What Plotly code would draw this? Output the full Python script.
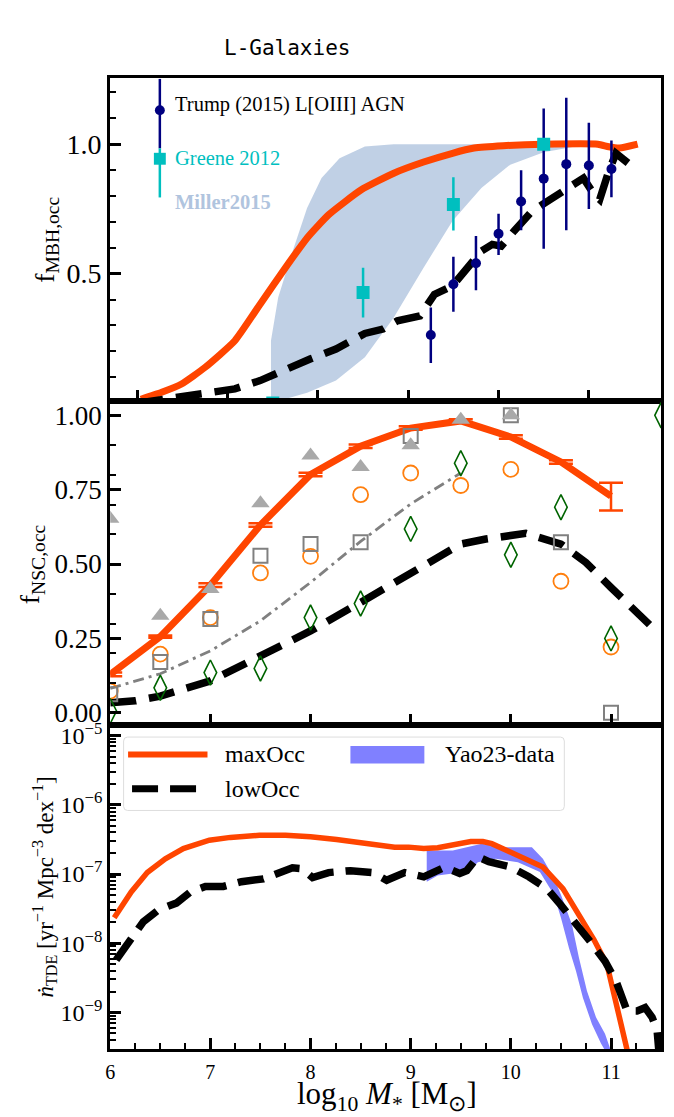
import plotly.graph_objects as go

W, H = 674, 1117
def px(x): return x / W
def py(y): return 1 - y / H

LEFT, RIGHT = 106, 661
T1, B1, B2, B3 = 72.5, 398.5, 724.5, 1051.5

RED = "#FF4500"
NAVY = "#000080"
CYAN = "#00BFBF"
SERIF = "Liberation Serif"

# ---------------- top panel data (MBH occupation) ----------------
top_max_x = [6.04, 6.27, 6.49, 6.75, 7.08, 7.36, 7.64, 7.88, 8.12, 8.48, 8.84, 9.17, 9.49, 9.73, 10.05, 10.5, 11.1, 11.22, 11.34, 11.54]
top_max_y = [0.015, 0.042, 0.074, 0.138, 0.241, 0.382, 0.523, 0.638, 0.728, 0.824, 0.888, 0.931, 0.965, 0.985, 0.994, 1.0, 1.0, 0.99, 0.985, 1.0]
top_low_x = [6.0, 6.15, 6.43, 6.79, 7.08, 7.36, 7.64, 7.92, 8.2, 8.52, 8.72, 8.88, 9.13, 9.29, 9.49, 9.69, 9.81, 9.93, 10.03, 10.17, 10.37, 10.57, 10.77, 10.94, 11.06, 11.12, 11.22, 11.3, 11.46, 11.54]
top_low_y = [0.0, 0.008, 0.019, 0.036, 0.055, 0.087, 0.132, 0.171, 0.209, 0.269, 0.286, 0.318, 0.337, 0.42, 0.453, 0.536, 0.587, 0.613, 0.606, 0.664, 0.741, 0.786, 0.831, 0.869, 0.805, 0.786, 0.895, 0.965, 0.92, 0.91]

miller_up_x = [7.48, 7.48, 7.56, 7.72, 7.88, 8.04, 8.24, 8.52, 8.84, 11.26]
miller_up_y = [0.0, 0.241, 0.408, 0.587, 0.754, 0.869, 0.946, 0.991, 1.0, 1.0]
miller_lo_x = [7.48, 7.88, 8.2, 8.52, 8.84, 9.17, 9.49, 9.81, 10.13, 10.5, 10.85, 11.26]
miller_lo_y = [0.0, 0.04, 0.087, 0.177, 0.331, 0.523, 0.703, 0.831, 0.921, 0.969, 0.991, 0.997]

trump_x = [9.25, 9.5, 9.75, 10.0, 10.25, 10.5, 10.75, 11.0, 11.25]
trump_y = [0.263, 0.459, 0.540, 0.654, 0.779, 0.867, 0.923, 0.918, 0.904]
trump_hi = [0.369, 0.565, 0.645, 0.731, 0.899, 1.138, 1.179, 1.083, 1.014]
trump_lo = [0.155, 0.353, 0.436, 0.572, 0.668, 0.596, 0.668, 0.750, 0.795]

greene_x = [7.5, 8.5, 9.5, 10.5]
greene_y = [0.0, 0.427, 0.767, 1.0]
greene_hi = [0.0, 0.523, 0.872, 1.0]
greene_lo = [0.0, 0.331, 0.667, 1.0]

# ---------------- middle panel data (NSC occupation) ----------------
nsc_x = [6.0, 6.5, 7.0, 7.5, 8.0, 8.5, 9.0, 9.5, 10.0, 10.5, 11.0]
nsc_max = [0.129, 0.256, 0.429, 0.631, 0.801, 0.896, 0.957, 0.981, 0.927, 0.843, 0.728]
nsc_max_errp = [0.006, 0.004, 0.006, 0.006, 0.006, 0.006, 0.006, 0.006, 0.006, 0.006, 0.045]
nsc_max_errm = [0.006, 0.004, 0.006, 0.006, 0.006, 0.006, 0.006, 0.006, 0.006, 0.006, 0.048]

nsc_dd_x = [6.0, 6.5, 7.0, 7.5, 8.0, 8.5, 9.0, 9.5]
nsc_dd_y = [0.082, 0.131, 0.208, 0.309, 0.438, 0.576, 0.702, 0.806]

nsc_low_x = [6.0, 6.25, 6.5, 7.0, 7.5, 8.0, 8.5, 9.0, 9.5, 9.75, 10.0, 10.15, 10.5, 10.75, 11.0, 11.25, 11.45]
nsc_low_y = [0.034, 0.040, 0.056, 0.107, 0.191, 0.275, 0.371, 0.466, 0.567, 0.584, 0.598, 0.603, 0.567, 0.505, 0.421, 0.335, 0.275]

tri_x = [6.0, 6.5, 7.0, 7.5, 8.0, 8.5, 9.0, 9.5, 10.0]
tri_y = [0.652, 0.326, 0.416, 0.704, 0.865, 0.826, 0.899, 0.985, 1.0]
sq_x = [6.0, 6.5, 7.0, 7.5, 8.0, 8.5, 9.0, 10.0, 10.5, 11.0]
sq_y = [0.062, 0.171, 0.315, 0.528, 0.567, 0.573, 0.930, 1.0, 0.573, 0.0]
circ_x = [6.0, 6.5, 7.0, 7.5, 8.0, 8.5, 9.0, 9.5, 10.0, 10.5, 11.0]
circ_y = [0.073, 0.197, 0.320, 0.470, 0.526, 0.733, 0.806, 0.764, 0.818, 0.442, 0.221]
dia_x = [6.0, 6.5, 7.0, 7.5, 8.0, 8.5, 9.0, 9.5, 10.0, 10.5, 11.0, 11.5]
dia_y = [0.006, 0.084, 0.135, 0.149, 0.320, 0.367, 0.618, 0.839, 0.531, 0.691, 0.250, 1.0]

# ---------------- bottom panel data (TDE rate) ----------------
tde_max_x = [6.04, 6.21, 6.37, 6.55, 6.73, 6.99, 7.2, 7.49, 7.75, 8.0, 8.26, 8.55, 8.84, 8.98, 9.13, 9.27, 9.45, 9.6, 9.72, 9.81, 9.96, 10.14, 10.32, 10.52, 10.68, 10.83, 10.96, 11.05, 11.14, 11.17]
tde_max_y = [2.34e-8, 5.50e-8, 1.05e-7, 1.66e-7, 2.34e-7, 3.09e-7, 3.39e-7, 3.63e-7, 3.63e-7, 3.47e-7, 3.16e-7, 2.82e-7, 2.45e-7, 2.45e-7, 2.34e-7, 2.40e-7, 2.75e-7, 2.95e-7, 2.95e-7, 2.75e-7, 2.19e-7, 1.66e-7, 1.26e-7, 6.17e-8, 2.57e-8, 1.12e-8, 4.90e-9, 1.48e-9, 4.37e-10, 2.51e-10]
tde_low_x = [6.06, 6.19, 6.33, 6.48, 6.66, 6.80, 6.95, 7.13, 7.31, 7.53, 7.68, 7.82, 7.91, 8.02, 8.18, 8.40, 8.62, 8.76, 8.94, 9.13, 9.34, 9.49, 9.56, 9.67, 9.78, 10.0, 10.18, 10.36, 10.5, 10.65, 10.79, 10.94, 11.05, 11.16, 11.26, 11.34, 11.41, 11.46, 11.48]
tde_low_y = [5.75e-9, 1.07e-8, 2.04e-8, 3.02e-8, 3.80e-8, 5.50e-8, 6.61e-8, 6.61e-8, 7.76e-8, 8.51e-8, 1.02e-7, 1.23e-7, 1.20e-7, 8.91e-8, 1.05e-7, 1.12e-7, 1.05e-7, 8.13e-8, 1.05e-7, 9.12e-8, 1.26e-7, 1.02e-7, 1.12e-7, 1.78e-7, 1.51e-7, 1.26e-7, 9.12e-8, 6.17e-8, 3.55e-8, 1.95e-8, 1.07e-8, 5.50e-9, 2.82e-9, 1.05e-9, 1.05e-9, 1.17e-9, 8.51e-10, 5.50e-10, 2.51e-10]

yao_up_x = [9.16, 9.42, 9.56, 9.71, 9.89, 10.1, 10.21, 10.32, 10.43, 10.5, 10.61, 10.68, 10.76, 10.85, 10.94, 11.01]
yao_up_y = [2.19e-7, 2.19e-7, 2.45e-7, 2.75e-7, 2.45e-7, 2.45e-7, 2.45e-7, 1.66e-7, 8.71e-8, 5.01e-8, 1.86e-8, 6.17e-9, 2.04e-9, 8.51e-10, 4.90e-10, 2.51e-10]
yao_lo_x = [9.16, 9.27, 9.42, 9.56, 9.67, 9.85, 10.07, 10.29, 10.43, 10.5, 10.58, 10.65, 10.72, 10.81, 10.9, 10.96]
yao_lo_y = [7.76e-8, 9.55e-8, 1.02e-7, 1.02e-7, 1.48e-7, 1.66e-7, 1.48e-7, 1.07e-7, 5.01e-8, 2.34e-8, 8.51e-9, 3.98e-9, 1.62e-9, 6.76e-10, 3.55e-10, 2.51e-10]

mass_ticks = [6, 7, 8, 9, 10, 11]
log_ticks = [1e-9, 1e-8, 1e-7, 1e-6, 1e-5]
log_tick_text = ["10<sup>\u22129</sup>", "10<sup>\u22128</sup>", "10<sup>\u22127</sup>", "10<sup>\u22126</sup>", "10<sup>\u22125</sup>"]

fig = go.Figure()

# ---- top panel ----
fig.add_trace(go.Scatter(x=miller_up_x + miller_lo_x[::-1], y=miller_up_y + miller_lo_y[::-1],
                         fill="toself", fillcolor="rgba(176,196,222,0.8)", mode="lines",
                         line=dict(width=0), xaxis="x", yaxis="y", hoverinfo="skip"))
fig.add_trace(go.Scatter(x=top_max_x, y=top_max_y, mode="lines",
                         line=dict(color=RED, width=7, shape="spline", smoothing=0.5),
                         xaxis="x", yaxis="y"))
fig.add_trace(go.Scatter(x=top_low_x, y=top_low_y, mode="lines",
                         line=dict(color="black", width=7.5, dash="26px,13px"), xaxis="x", yaxis="y"))
fig.add_trace(go.Scatter(x=trump_x, y=trump_y, mode="markers",
                         marker=dict(color=NAVY, size=10, symbol="circle"),
                         error_y=dict(type="data", symmetric=False,
                                      array=[h - v for h, v in zip(trump_hi, trump_y)],
                                      arrayminus=[v - l for v, l in zip(trump_y, trump_lo)],
                                      color=NAVY, thickness=2.5, width=0),
                         xaxis="x", yaxis="y"))
fig.add_trace(go.Scatter(x=greene_x, y=greene_y, mode="markers",
                         marker=dict(color=CYAN, size=13, symbol="square"),
                         error_y=dict(type="data", symmetric=False,
                                      array=[h - v for h, v in zip(greene_hi, greene_y)],
                                      arrayminus=[v - l for v, l in zip(greene_y, greene_lo)],
                                      color=CYAN, thickness=2.5, width=0),
                         xaxis="x", yaxis="y"))

# ---- middle panel ----
fig.add_trace(go.Scatter(x=nsc_x, y=nsc_max, mode="lines", line=dict(color=RED, width=7),
                         error_y=dict(type="data", symmetric=False, array=nsc_max_errp,
                                      arrayminus=nsc_max_errm, color=RED, thickness=2.5, width=12),
                         xaxis="x2", yaxis="y2"))
fig.add_trace(go.Scatter(x=nsc_dd_x, y=nsc_dd_y, mode="lines",
                         line=dict(color="gray", width=2.8, dash="11px,5px,3px,5px"), xaxis="x2", yaxis="y2"))
fig.add_trace(go.Scatter(x=nsc_low_x, y=nsc_low_y, mode="lines",
                         line=dict(color="black", width=7.5, dash="26px,13px"), xaxis="x2", yaxis="y2"))
fig.add_trace(go.Scatter(x=circ_x, y=circ_y, mode="markers",
                         marker=dict(symbol="circle-open", size=15, color="#FF7F0E", line=dict(width=1.8)),
                         xaxis="x2", yaxis="y2"))
fig.add_trace(go.Scatter(x=sq_x, y=sq_y, mode="markers",
                         marker=dict(symbol="square-open", size=14, color="gray", line=dict(width=2)),
                         xaxis="x2", yaxis="y2"))
fig.add_trace(go.Scatter(x=tri_x, y=tri_y, mode="markers",
                         marker=dict(symbol="triangle-up", size=16, color="darkgray"),
                         xaxis="x2", yaxis="y2"))
fig.add_trace(go.Scatter(x=dia_x, y=dia_y, mode="markers",
                         marker=dict(symbol="diamond-tall-open", size=18, color="darkgreen", line=dict(width=1.6)),
                         xaxis="x2", yaxis="y2"))

# ---- bottom panel ----
fig.add_trace(go.Scatter(x=yao_up_x + yao_lo_x[::-1], y=yao_up_y + yao_lo_y[::-1],
                         fill="toself", fillcolor="#8080FF", mode="lines", line=dict(width=0),
                         xaxis="x3", yaxis="y3", hoverinfo="skip"))
fig.add_trace(go.Scatter(x=tde_max_x, y=tde_max_y, mode="lines", line=dict(color=RED, width=5.5),
                         xaxis="x3", yaxis="y3"))
fig.add_trace(go.Scatter(x=tde_low_x, y=tde_low_y, mode="lines",
                         line=dict(color="black", width=7.5, dash="26px,12px"), xaxis="x3", yaxis="y3"))

axline = dict(showline=True, linewidth=3, linecolor="black", mirror=True, showgrid=False,
              zeroline=False, ticks="inside", tickwidth=2.5, ticklen=11, tickcolor="black")
xdom = [px(LEFT), px(RIGHT)]

fig.update_layout(
    width=W, height=H, margin=dict(l=0, r=0, t=0, b=0),
    paper_bgcolor="white", plot_bgcolor="white", showlegend=False,
    font=dict(family=SERIF, color="black"),
    xaxis=dict(domain=xdom, anchor="y", range=[5.7, 11.8], tickvals=mass_ticks,
               showticklabels=False, **axline),
    yaxis=dict(domain=[py(B1), py(T1)], anchor="x", range=[0.007, 1.256], tickvals=[0.5, 1.0],
               ticktext=["0.5", "1.0"], tickfont=dict(size=28, family=SERIF),
               minor=dict(tickvals=[0.1, 0.2, 0.3, 0.4, 0.6, 0.7, 0.8, 0.9, 1.1, 1.2], ticks="inside",
                          ticklen=6, tickwidth=1.8, tickcolor="black", showgrid=False), **axline),
    xaxis2=dict(domain=xdom, anchor="y2", range=[6, 11.5], tickvals=mass_ticks,
                showticklabels=False, **axline),
    yaxis2=dict(domain=[py(B2), py(B1)], anchor="x2", range=[-0.04, 1.047],
                tickvals=[0, 0.25, 0.5, 0.75, 1.0], ticktext=["0.00", "0.25", "0.50", "0.75", "1.00"],
                tickfont=dict(size=27, family=SERIF),
                minor=dict(tickvals=[0.1, 0.2, 0.3, 0.4, 0.6, 0.7, 0.8, 0.9], ticks="inside",
                           ticklen=6, tickwidth=1.8, tickcolor="black", showgrid=False), **axline),
    xaxis3=dict(domain=xdom, anchor="y3", range=[6, 11.5], tickvals=mass_ticks,
                ticktext=[str(t) for t in mass_ticks], tickfont=dict(size=20, family=SERIF),
                ticklabelstandoff=3,
                minor=dict(tickvals=[6.25, 6.5, 6.75, 7.25, 7.5, 7.75, 8.25, 8.5, 8.75, 9.25, 9.5, 9.75,
                                     10.25, 10.5, 10.75, 11.25], ticks="inside", ticklen=6,
                           tickwidth=1.8, tickcolor="black", showgrid=False), **axline),
    yaxis3=dict(domain=[py(B3), py(B2)], anchor="x3", type="log", range=[-9.53, -4.84],
                tickvals=log_ticks, ticktext=log_tick_text, tickfont=dict(size=24, family=SERIF),
                minor=dict(tickvals=[k * 10.0 ** e for e in range(-10, -4) for k in range(2, 10)],
                           ticks="inside", ticklen=6, tickwidth=1.5, tickcolor="black", showgrid=False),
                **axline),
)

ann = []
def text(x, y, s, size, color="black", xanchor="left", angle=0, family=SERIF, yanchor="middle"):
    ann.append(dict(x=px(x), y=py(y), xref="paper", yref="paper", text=s, showarrow=False,
                    xanchor=xanchor, yanchor=yanchor, textangle=angle,
                    font=dict(size=size, color=color, family=family)))

text(284, 42, "L-Galaxies", 21, xanchor="center", family="DejaVu Sans Mono")
text(169, 99, "Trump (2015) L[OIII] AGN", 20.5)
text(169, 153, "Greene 2012", 20.5, color=CYAN)
text(169, 198, "<b>Miller2015</b>", 20.5, color="#B0C4DE")
text(41, 236, "f<sub>MBH,occ</sub>", 28, xanchor="center", angle=-90)
text(27, 563, "f<sub>NSC,occ</sub>", 28, xanchor="center", angle=-90)
text(40, 888, "<i>\u1e45</i><sub>TDE</sub> [yr<sup>\u22121</sup> Mpc<sup>\u22123</sup> dex<sup>\u22121</sup>]",
     23, xanchor="center", angle=-90)
text(385, 1099, "log<sub>10</sub> <i>M</i><sub>*</sub> [M<sub>\u2299</sub>]", 31, xanchor="center")
text(220, 754, "maxOcc", 24)
text(220, 789, "lowOcc", 24)
text(441, 754, "Yao23-data", 24)
fig.update_layout(annotations=ann)

shapes = []
# top-panel legend handles
shapes.append(dict(type="line", xref="paper", yref="paper", x0=px(156), x1=px(156), y0=py(T1 + 1), y1=py(143.5),
                   line=dict(color=NAVY, width=2.5)))
shapes.append(dict(type="circle", xref="paper", yref="paper", x0=px(151), x1=px(161), y0=py(110), y1=py(100),
                   fillcolor=NAVY, line=dict(color=NAVY, width=0)))
shapes.append(dict(type="line", xref="paper", yref="paper", x0=px(156), x1=px(156), y0=py(143.5), y1=py(193),
                   line=dict(color=CYAN, width=2.5)))
shapes.append(dict(type="rect", xref="paper", yref="paper", x0=px(150), x1=px(162), y0=py(160), y1=py(148),
                   fillcolor=CYAN, line=dict(color=CYAN, width=0)))
# bottom legend frame (rounded)
lx0, lx1, ly0, ly1, r = 119.5, 563.5, 737, 811, 4
path = (f"M {px(lx0 + r)},{py(ly0)} L {px(lx1 - r)},{py(ly0)} Q {px(lx1)},{py(ly0)} {px(lx1)},{py(ly0 + r)} "
        f"L {px(lx1)},{py(ly1 - r)} Q {px(lx1)},{py(ly1)} {px(lx1 - r)},{py(ly1)} "
        f"L {px(lx0 + r)},{py(ly1)} Q {px(lx0)},{py(ly1)} {px(lx0)},{py(ly1 - r)} "
        f"L {px(lx0)},{py(ly0 + r)} Q {px(lx0)},{py(ly0)} {px(lx0 + r)},{py(ly0)} Z")
shapes.append(dict(type="path", xref="paper", yref="paper", path=path, fillcolor="rgba(255,255,255,0.8)",
                   line=dict(color="#DDDDDD", width=1)))
shapes.append(dict(type="line", xref="paper", yref="paper", x0=px(124), x1=px(204), y0=py(754.5), y1=py(754.5),
                   line=dict(color=RED, width=6)))
shapes.append(dict(type="line", xref="paper", yref="paper", x0=px(128), x1=px(204), y0=py(789), y1=py(789),
                   line=dict(color="black", width=7, dash="26px,12px")))
shapes.append(dict(type="rect", xref="paper", yref="paper", x0=px(348), x1=px(422.5), y0=py(763.6), y1=py(746),
                   fillcolor="#8080FF", line=dict(width=0)))
fig.update_layout(shapes=shapes)

fig.write_html("out.html")
